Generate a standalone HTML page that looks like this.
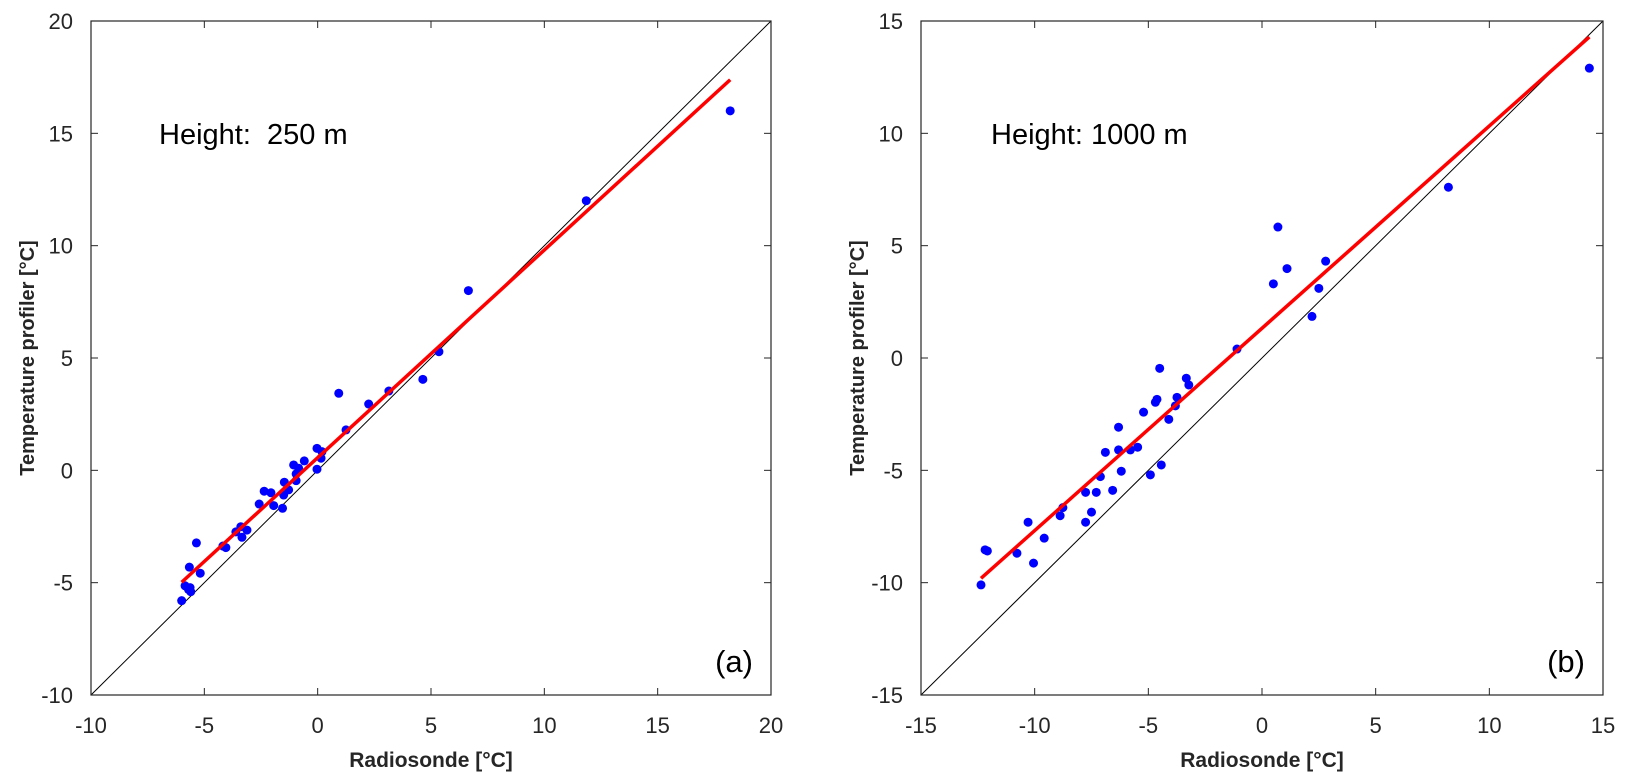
<!DOCTYPE html>
<html><head><meta charset="utf-8"><style>
body{margin:0;background:#fff;}
svg{display:block;font-family:"Liberation Sans",Arial,sans-serif;}
</style></head><body>
<svg id="c" width="1626" height="783" viewBox="0 0 1626 783"></svg>
<script>
const axA_x = [18.2,11.85,6.65,5.35,4.64,3.14,2.25,0.93,1.25,-0.03,0.19,0.15,-0.03,-0.59,-1.06,-0.84,-0.95,-0.95,-1.47,-1.28,-1.5,-1.55,-1.94,-2.06,-2.36,-2.58,-3.12,-3.39,-3.61,-3.34,-4.05,-4.18,-5.35,-5.18,-5.66,-5.85,-5.63,-6.0,-5.6,-5.7];
const axA_y = [16.0,12.0,8.0,5.28,4.05,3.53,2.95,3.43,1.8,0.98,0.83,0.54,0.05,0.42,0.24,0.09,-0.16,-0.46,-0.53,-0.87,-1.1,-1.69,-1.57,-1.0,-0.93,-1.5,-2.66,-2.51,-2.74,-2.98,-3.44,-3.37,-3.23,-4.58,-4.31,-5.14,-5.22,-5.8,-5.4,-5.3];
const axB_x = [-4.5,-3.33,-3.22,-3.74,-3.81,-4.1,-4.62,-4.69,-5.21,-6.31,-5.47,-5.79,-6.31,-6.89,-7.11,-6.19,-6.57,-7.29,-7.76,-7.76,-7.5,-4.91,-4.43,-8.76,-8.88,-10.29,-9.58,-10.78,-10.05,-12.18,-12.08,-12.36,-1.1,0.7,0.5,1.1,2.8,2.2,2.5,8.2,14.4];
const axB_y = [-0.46,-0.9,-1.2,-1.75,-2.13,-2.73,-1.84,-1.97,-2.41,-3.08,-3.97,-4.09,-4.09,-4.2,-5.28,-5.04,-5.89,-5.98,-5.98,-7.31,-6.86,-5.2,-4.76,-6.66,-7.02,-7.31,-8.02,-8.69,-9.13,-8.54,-8.59,-10.1,0.4,5.83,3.3,3.98,4.31,1.85,3.1,7.6,12.9];
const ticksA = [-10,-5,0,5,10,15,20];
const ticksB = [-15,-10,-5,0,5,10,15];

const NS="http://www.w3.org/2000/svg";
const svg=document.getElementById('c');
function mk(tag,attrs,parent){const e=document.createElementNS(NS,tag);for(const k in attrs)e.setAttribute(k,attrs[k]);(parent||svg).appendChild(e);return e;}

function panel(cfg){
  const {L,R,T,B,min,max,xs,ys,ticks,label,letter,ytx,key}=cfg;
  const sx=v=>L+(v-min)/(max-min)*(R-L);
  const sy=v=>B-(v-min)/(max-min)*(B-T);
  const g=mk('g',{});
  
  
  const d=mk('line',{x1:sx(min),y1:sy(min),x2:sx(max),y2:sy(max),stroke:'#000','stroke-width':1},g);
  
  
  const n=xs.length;let mx=0,my=0;for(let i=0;i<n;i++){mx+=xs[i];my+=ys[i];}mx/=n;my/=n;
  let sxy=0,sxx=0;for(let i=0;i<n;i++){sxy+=(xs[i]-mx)*(ys[i]-my);sxx+=(xs[i]-mx)**2;}
  const b=sxy/sxx,a=my-b*mx;const x0=Math.min(...xs),x1=Math.max(...xs);
  for(let i=0;i<n;i++){
    const c=mk('circle',{cx:sx(xs[i]),cy:sy(ys[i]),r:4.5,fill:'#0000ff'},g);
    
    
  }
  const f=mk('line',{x1:sx(x0),y1:sy(a+b*x0),x2:sx(x1),y2:sy(a+b*x1),stroke:'#ff0000','stroke-width':3.5},g);
  
  
  const bx=mk('rect',{x:L,y:T,width:R-L,height:B-T,fill:'none',stroke:'#262626','stroke-width':1.2},g);
  
  
  ticks.forEach(t=>{
    const X=sx(t),Y=sy(t);
    mk('line',{x1:X,y1:B,x2:X,y2:B-7,stroke:'#262626'},g);
    mk('line',{x1:X,y1:T,x2:X,y2:T+7,stroke:'#262626'},g);
    mk('line',{x1:L,y1:Y,x2:L+7,y2:Y,stroke:'#262626'},g);
    mk('line',{x1:R,y1:Y,x2:R-7,y2:Y,stroke:'#262626'},g);
    const tx=mk('text',{x:X,y:B+38,'text-anchor':'middle','font-size':22,fill:'#262626'},g);tx.textContent=t;
    
    
    const ty=mk('text',{x:L-18,y:Y+8,'text-anchor':'end','font-size':22,fill:'#262626'},g);ty.textContent=t;
    
    
  });
  const xt=mk('text',{x:(L+R)/2,y:767,'text-anchor':'middle','font-size':21,'font-weight':'bold',fill:'#262626'},g);xt.textContent='Radiosonde [°C]';
  
  
  const yt=mk('text',{x:0,y:0,'text-anchor':'middle','font-size':20,'font-weight':'bold',fill:'#262626',transform:`translate(${ytx},${(T+B)/2}) rotate(-90)`},g);yt.textContent='Temperature profiler [°C]';
  
  
  const ht=mk('text',{x:cfg.hx,y:144,'font-size':29,fill:'#000'},g);ht.textContent=label;
  
  
  const lt=mk('text',{x:R-18,y:672,'text-anchor':'end','font-size':31,fill:'#000'},g);lt.textContent=letter;
  
  
}
panel({key:'a',L:91,R:771,T:21,B:695,min:-10,max:20,xs:axA_x,ys:axA_y,ticks:ticksA,label:'Height:\u00a0 250 m',letter:'(a)',ytx:34,hx:159});
panel({key:'b',L:921,R:1603,T:21,B:695,min:-15,max:15,xs:axB_x,ys:axB_y,ticks:ticksB,label:'Height: 1000 m',letter:'(b)',ytx:864,hx:991});
</script>
</body></html>
